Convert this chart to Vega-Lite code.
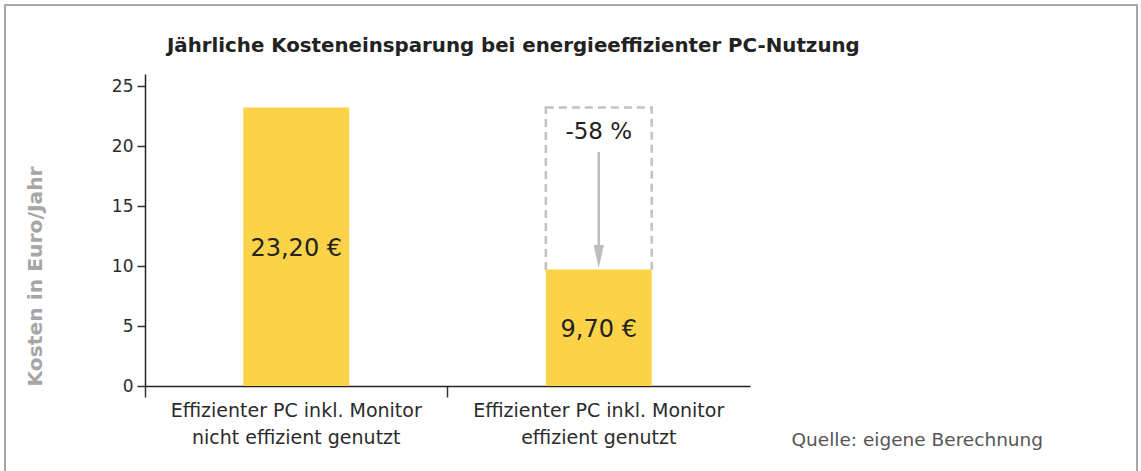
{
  "$schema": "https://vega.github.io/schema/vega-lite/v6.json",
  "width": 1132,
  "height": 467,
  "autosize": {"type": "none"},
  "padding": {"left": 5, "top": 5, "right": 4, "bottom": 0},
  "background": "white",
  "config": {
    "view": {"stroke": "#a8a8a8", "strokeWidth": 2},
    "font": "DejaVu Sans",
    "axisY": {
      "offset": -140,
      "tickCount": 6,
      "grid": false,
      "tickSize": 8,
      "tickWidth": 1.5,
      "tickColor": "#333333",
      "domainColor": "#222222",
      "domainWidth": 1.5,
      "labelFont": "DejaVu Sans",
      "labelFontSize": 17,
      "labelColor": "#2b2b2b",
      "labelPadding": 4,
      "titleX": -103.5,
      "titleY": 381,
      "titleAngle": -90,
      "titleAlign": "left",
      "titleBaseline": "alphabetic",
      "titleFont": "DejaVu Sans",
      "titleFontSize": 20.3,
      "titleFontWeight": "bold",
      "titleColor": "#a6a6a6"
    }
  },
  "title": {
    "text": "Jährliche Kosteneinsparung bei energieeffizienter PC-Nutzung",
    "anchor": "start",
    "frame": "bounds",
    "dx": 162,
    "dy": 67,
    "offset": 0,
    "baseline": "alphabetic",
    "font": "DejaVu Sans",
    "fontSize": 19.8,
    "fontWeight": "bold",
    "color": "#222222"
  },
  "datasets": {
    "bars": [
      {"category": "Effizienter PC inkl. Monitor nicht effizient genutzt", "value": 23.2, "label": "23,20 €"},
      {"category": "Effizienter PC inkl. Monitor effizient genutzt", "value": 9.7, "label": "9,70 €"}
    ],
    "box": [
      {"category": "Effizienter PC inkl. Monitor effizient genutzt", "from": 23.2, "to": 9.55}
    ],
    "arrow": [
      {"category": "Effizienter PC inkl. Monitor effizient genutzt", "start": 19.5, "tip": 10.79, "textpos": 21.17, "text": "-58 %"}
    ]
  },
  "encoding": {
    "x": {
      "field": "category",
      "type": "nominal",
      "sort": null,
      "scale": {
        "domain": ["Effizienter PC inkl. Monitor nicht effizient genutzt", "Effizienter PC inkl. Monitor effizient genutzt"],
        "range": [140, 745],
        "paddingInner": 0,
        "paddingOuter": 0
      },
      "axis": {
        "title": "Quelle: eigene Berechnung",
        "titleX": 786,
        "titleY": 59,
        "titleAlign": "left",
        "titleBaseline": "alphabetic",
        "titleFont": "DejaVu Sans",
        "titleFontSize": 18.5,
        "titleFontWeight": "normal",
        "titleColor": "#555555",
        "offset": -86,
        "bandPosition": 0,
        "tickExtra": false,
        "tickSize": 11,
        "tickWidth": 1.5,
        "tickColor": "#333333",
        "domainColor": "#222222",
        "domainWidth": 1.5,
        "labelFont": "DejaVu Sans",
        "labelFontSize": 19,
        "labelColor": "#2b2b2b",
        "labelPadding": 4,
        "labelLimit": 500,
        "labelLineHeight": 27.5,
        "labelAngle": 0,
        "labelBaseline": "top",
        "labelExpr": "[slice(datum.label, 0, indexof(datum.label, 'Monitor') + 7), slice(datum.label, indexof(datum.label, 'Monitor') + 8)]"
      }
    }
  },
  "layer": [
    {
      "data": {"name": "box"},
      "mark": {
        "type": "bar",
        "width": {"band": 0.35},
        "fill": "transparent",
        "stroke": "#c2c2c2",
        "strokeWidth": 2.5,
        "strokeDash": [8, 5]
      },
      "encoding": {
        "y": {"field": "from", "type": "quantitative", "scale": {"domain": [0, 26], "range": [381, 69], "nice": false}, "axis": {"title": "Kosten in Euro/Jahr"}},
        "y2": {"field": "to"}
      }
    },
    {
      "data": {"name": "bars"},
      "mark": {"type": "bar", "width": {"band": 0.35}, "color": "#fcd348"},
      "encoding": {
        "y": {"field": "value", "type": "quantitative", "scale": {"domain": [0, 26], "range": [381, 69], "nice": false}, "axis": {"title": "Kosten in Euro/Jahr"}}
      }
    },
    {
      "data": {"name": "bars"},
      "transform": [{"calculate": "datum.value / 2", "as": "mid"}],
      "mark": {"type": "text", "fontSize": 24, "color": "#222222", "baseline": "middle", "dy": 2.5, "font": "DejaVu Sans"},
      "encoding": {
        "y": {"field": "mid", "type": "quantitative", "scale": {"domain": [0, 26], "range": [381, 69], "nice": false}, "axis": {"title": "Kosten in Euro/Jahr"}},
        "text": {"field": "label"}
      }
    },
    {
      "data": {"name": "arrow"},
      "mark": {"type": "rule", "stroke": "#bdbdbd", "strokeWidth": 2.5},
      "encoding": {
        "y": {"field": "start", "type": "quantitative", "scale": {"domain": [0, 26], "range": [381, 69], "nice": false}, "axis": {"title": "Kosten in Euro/Jahr"}},
        "y2": {"field": "tip"}
      }
    },
    {
      "data": {"name": "arrow"},
      "mark": {"type": "point", "shape": "M-0.45,-1L0.45,-1L0,1Z", "filled": true, "color": "#bdbdbd", "opacity": 1, "size": 529, "strokeWidth": 0},
      "encoding": {
        "y": {"field": "tip", "type": "quantitative", "scale": {"domain": [0, 26], "range": [381, 69], "nice": false}, "axis": {"title": "Kosten in Euro/Jahr"}}
      }
    },
    {
      "data": {"name": "arrow"},
      "mark": {"type": "text", "fontSize": 23, "color": "#222222", "baseline": "middle", "font": "DejaVu Sans"},
      "encoding": {
        "y": {"field": "textpos", "type": "quantitative", "scale": {"domain": [0, 26], "range": [381, 69], "nice": false}, "axis": {"title": "Kosten in Euro/Jahr"}},
        "text": {"field": "text"}
      }
    }
  ]
}
